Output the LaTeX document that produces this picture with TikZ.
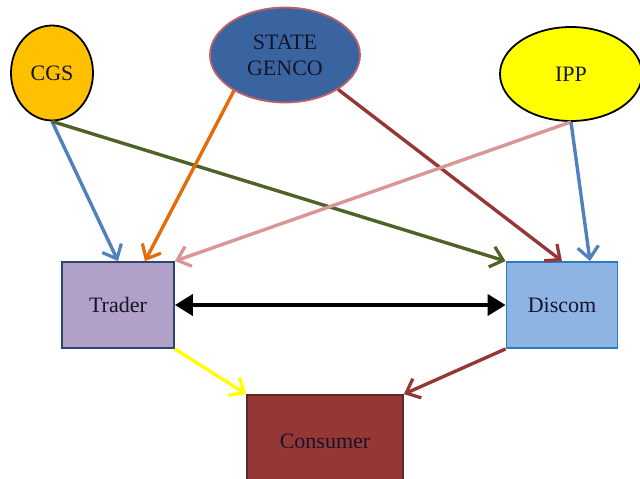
\documentclass[tikz,border=0pt]{standalone}
\usepackage{fontspec}
\setmainfont{Liberation Serif}
\usetikzlibrary{shapes.geometric,arrows.meta}

\definecolor{cgsfill}{HTML}{FFC000}
\definecolor{gencofill}{HTML}{3A64A0}
\definecolor{gencoline}{HTML}{C0606A}
\definecolor{ippfill}{HTML}{FFFF00}
\definecolor{traderfill}{HTML}{B1A0C7}
\definecolor{traderline}{HTML}{2B4470}
\definecolor{discomfill}{HTML}{8DB4E2}
\definecolor{discomline}{HTML}{2A7CC0}
\definecolor{consfill}{HTML}{953735}
\definecolor{consline}{HTML}{5A2A2A}
\definecolor{lblue}{HTML}{4F81BD}
\definecolor{lgreen}{HTML}{4F6228}
\definecolor{lorange}{HTML}{E46C0A}
\definecolor{lred}{HTML}{953735}
\definecolor{lpink}{HTML}{D99694}
\definecolor{lyellow}{HTML}{FFFF00}
\definecolor{txt}{HTML}{14142A}

\tikzset{
  source/.style={ellipse, draw, line width=1.8pt, text=txt,
    font=\fontsize{22}{24}\selectfont, align=center, inner sep=0pt},
  party/.style={rectangle, draw, line width=1.8pt, text=txt,
    font=\fontsize{22}{24}\selectfont, inner sep=0pt},
  flow/.style={line width=3.4pt, -{Straight Barb[length=12pt,width=21pt,line width=3.2pt]}},
  trade/.style={line width=4pt, {Triangle[length=18pt,width=21pt]}-{Triangle[length=18pt,width=21pt]}}
}

\begin{document}
\begin{tikzpicture}[x=1pt,y=-1pt]
\useasboundingbox (0,0) rectangle (640,479);
\clip (0,0) rectangle (640,479);

% generating sources
\node[source, fill=cgsfill, minimum width=82pt, minimum height=95pt] (cgs) at (52,73) {CGS};
\node[source, fill=gencofill, draw=gencoline, minimum width=150pt, minimum height=95pt] (genco) at (285,55) {STATE\\[2pt]GENCO};
\node[source, fill=ippfill, minimum width=142pt, minimum height=94pt] (ipp) at (571,74) {IPP};

% market parties
\node[party, fill=traderfill, draw=traderline, minimum width=112pt, minimum height=86pt] (trader) at (118,305) {Trader};
\node[party, fill=discomfill, draw=discomline, minimum width=111pt, minimum height=86pt] (discom) at (562,305) {Discom};
\node[party, fill=consfill, draw=consline, minimum width=156pt, minimum height=92pt] (consumer) at (325,441) {Consumer};

% power flows
\draw[flow, lblue] (cgs.south) -- (trader.north);
\draw[flow, lgreen] (cgs.south) -- (discom.north west);
\draw[flow, lorange] (genco.215) -- ([xshift=27pt]trader.north);
\draw[flow, lred] (genco.327) -- (discom.north);
\draw[flow, lpink] (ipp.south) -- (trader.north east);
\draw[flow, lblue] (ipp.south) -- ([xshift=28pt]discom.north);
\draw[trade] (trader.east) -- (discom.west);
\draw[flow, lyellow] (trader.south east) -- (consumer.north west);
\draw[flow, lred] (discom.south west) -- (consumer.north east);
\end{tikzpicture}
\end{document}
